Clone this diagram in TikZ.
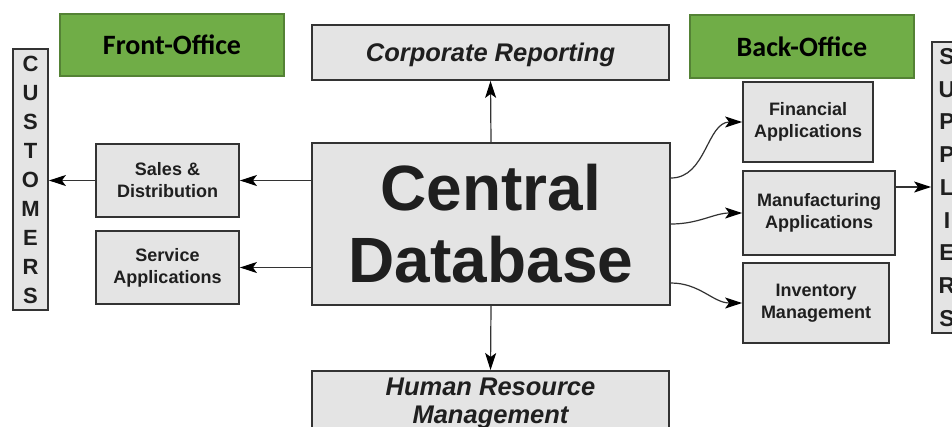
\documentclass[tikz,border=0pt]{standalone}
\usepackage{fontspec}
\usepackage{tikz}
\usetikzlibrary{arrows.meta, positioning}
\newfontfamily\arialfont{Liberation Sans}
\newfontfamily\calfont{Carlito}
\definecolor{boxgray}{HTML}{E4E4E4}
\definecolor{linegray}{HTML}{333333}
\definecolor{officegreen}{HTML}{70AD47}
\definecolor{greenline}{HTML}{548235}

\begin{document}
\begin{tikzpicture}[x=1pt, y=-1pt]
			\tikzstyle{Box} = [ %grey boxes of the system parts
				draw=linegray,
				line width=1.8pt,
				fill=boxgray,
				text=black!88,
				align=center,
				inner sep=0pt,
				font=\arialfont\bfseries\fontsize{18}{22}\selectfont
			]
			\tikzstyle{Letters} = [
				Box,
				font=\arialfont\bfseries\fontsize{22}{29}\selectfont
			]
			\tikzstyle{Office} = [
				draw=greenline,
				line width=1.4pt,
				fill=officegreen,
				text=black,
				minimum width=224pt,
				font=\calfont\bfseries\fontsize{28}{30}\selectfont
			]
			\tikzstyle{Arrow} = [
				-{Stealth[length=17pt, width=11pt, inset=4pt, black]},
				line width=1.2pt,
				draw=linegray
			]
			\fill[white] (0,0) rectangle (952,426);
			\useasboundingbox (0,0) rectangle (952,426);

			\node (db) [Box, minimum width=358pt, minimum height=162pt,
				font=\arialfont\bfseries\fontsize{64}{72}\selectfont] at (491,224) {Central\\Database};
			\node (cr) [Box, minimum width=357pt, minimum height=55pt, text depth=0pt,
				font=\arialfont\bfseries\itshape\fontsize{25.5}{28}\selectfont] at (490.5,52.5) {Corporate Reporting};
			\node (hr) [Box, anchor=north, minimum width=357pt, minimum height=64pt,
				font=\arialfont\bfseries\itshape\fontsize{25.5}{28}\selectfont] at (490.5,370) {Human Resource\\Management};

			\node (sd) [Box, minimum width=143pt, minimum height=73pt] at (167.5,180.5) {Sales \&\\Distribution};
			\node (sv) [Box, minimum width=143pt, minimum height=73pt] at (167.5,267.5) {Service\\Applications};
			\node (cu) [Letters, minimum width=35pt, minimum height=261pt] at (30.5,179.5) {C\\U\\S\\T\\O\\M\\E\\R\\S};

			\node (fa) [Box, minimum width=130pt, minimum height=80pt] at (808,122) {Financial\\Applications};
			\node (ma) [Box, minimum width=152pt, minimum height=84pt] at (819,213) {Manufacturing\\Applications};
			\node (im) [Box, minimum width=146pt, minimum height=80pt] at (816,303) {Inventory\\Management};
			\node (su) [Letters, minimum width=30pt, minimum height=291pt,
				font=\arialfont\bfseries\fontsize{23}{32.75}\selectfont] at (947,187.5) {S\\U\\P\\P\\L\\I\\E\\R\\S};

			\node (fo) [Office, minimum height=62pt] at (172,45) {Front-Office};
			\node (bo) [Office, minimum height=63pt] at (802,46.5) {Back-Office};

			\draw[Arrow] (db.north) -- (cr.south);
			\draw[Arrow] (db.south) -- (hr.north);
			\draw[Arrow] (db.west |- sd) -- (sd.east);
			\draw[Arrow] (db.west |- sv) -- (sv.east);
			\draw[Arrow] (sd.west) -- (sd.west -| cu.east);
			\draw[Arrow] ([yshift=46pt]db.east) to[out=0, in=180] (fa.west);
			\draw[Arrow] (db.east) to[out=0, in=180] (ma.west);
			\draw[Arrow] ([yshift=-59pt]db.east) to[out=0, in=180] (im.west);
			\draw[Arrow] ([yshift=26pt]ma.east) -- ([yshift=26pt]ma.east -| su.west);
		\end{tikzpicture}
\end{document}
